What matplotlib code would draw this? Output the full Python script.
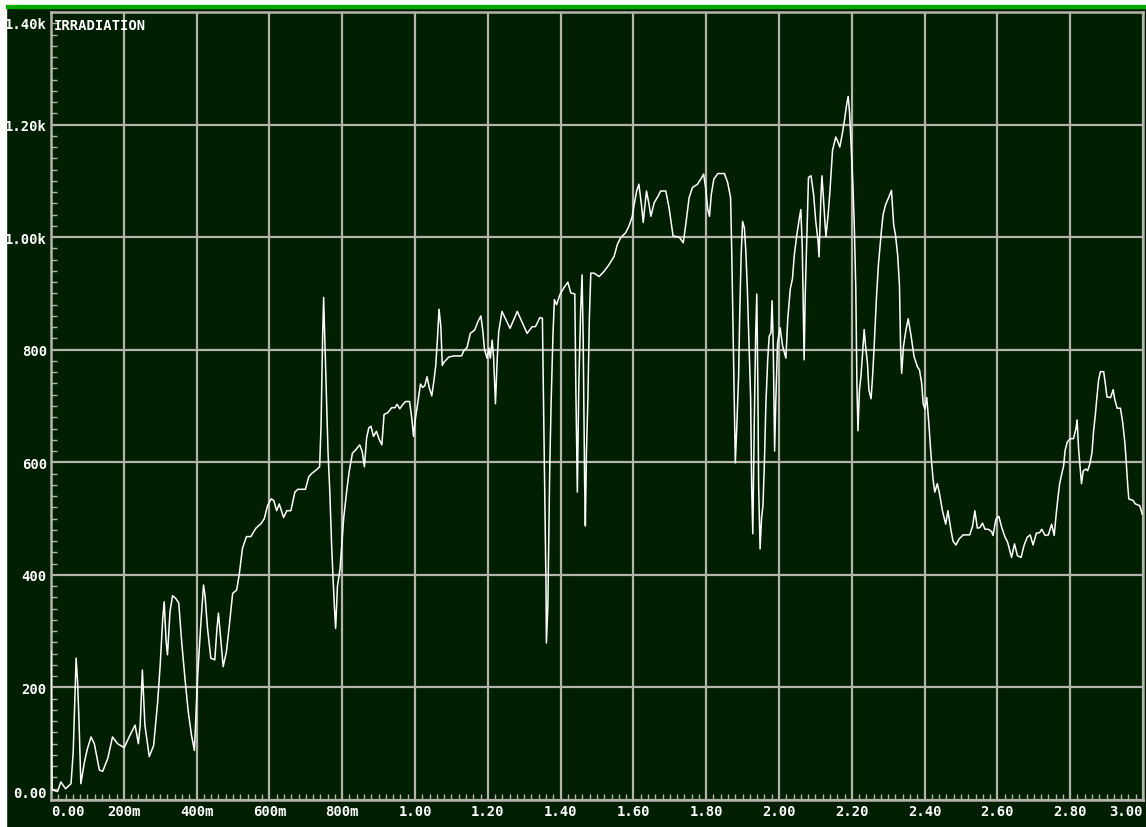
import matplotlib
matplotlib.use("Agg")
import matplotlib.pyplot as plt
from matplotlib.patches import Rectangle
from matplotlib.ticker import MultipleLocator
from matplotlib.transforms import ScaledTranslation

# Spectral irradiance trace (wavelength in micrometres)
wavelength_um = [
    0.0, 0.003, 0.018, 0.027, 0.04, 0.055, 0.061, 0.066, 0.069, 0.073, 0.077, 0.082,
    0.092, 0.10, 0.11, 0.119, 0.133, 0.142, 0.156, 0.169, 0.183, 0.201, 0.217, 0.231,
    0.24, 0.245, 0.251, 0.258, 0.27, 0.282, 0.293, 0.30, 0.307, 0.311, 0.316, 0.32,
    0.327, 0.334, 0.343, 0.351, 0.359, 0.368, 0.377, 0.386, 0.394, 0.399, 0.403, 0.412,
    0.419, 0.423, 0.43, 0.439, 0.45, 0.456, 0.46, 0.467, 0.473, 0.482, 0.49, 0.499,
    0.51, 0.517, 0.526, 0.537, 0.549, 0.563, 0.577, 0.586,
    0.595, 0.605, 0.612, 0.62, 0.627, 0.639, 0.648, 0.659, 0.67, 0.678, 0.699, 0.708,
    0.716, 0.728, 0.738, 0.742, 0.746, 0.749, 0.752, 0.756, 0.761, 0.766, 0.771, 0.775,
    0.779, 0.782, 0.787, 0.794, 0.804, 0.812, 0.819, 0.828, 0.837, 0.848, 0.855, 0.861,
    0.867, 0.873, 0.879, 0.886, 0.894, 0.902, 0.909, 0.915, 0.925, 0.936, 0.945, 0.951,
    0.958, 0.967, 0.974, 0.985, 0.991, 0.996, 1.0, 1.007, 1.015, 1.021, 1.027, 1.033,
    1.039, 1.046, 1.052, 1.057, 1.062, 1.066, 1.071, 1.075, 1.08, 1.093, 1.107, 1.128,
    1.134, 1.143, 1.152, 1.164, 1.173, 1.181, 1.186, 1.191,
    1.198, 1.203, 1.207, 1.212, 1.216, 1.221, 1.226, 1.23, 1.239, 1.261, 1.281, 1.308,
    1.322, 1.331, 1.343, 1.35, 1.352, 1.356, 1.36, 1.361, 1.365, 1.37, 1.374, 1.379,
    1.383, 1.389, 1.398, 1.409, 1.42, 1.428, 1.439, 1.442, 1.446, 1.45, 1.455, 1.459,
    1.462, 1.466, 1.468, 1.471, 1.475, 1.479, 1.483, 1.492, 1.506, 1.519, 1.533, 1.547,
    1.556, 1.565, 1.579, 1.588, 1.597, 1.602, 1.609, 1.615, 1.622, 1.627, 1.631, 1.636,
    1.643, 1.648, 1.657, 1.668, 1.675, 1.689, 1.698, 1.709, 1.726, 1.737, 1.744, 1.753,
    1.762, 1.776, 1.785, 1.793,
    1.799, 1.804, 1.809, 1.814, 1.821, 1.832, 1.85, 1.859, 1.867, 1.87, 1.874, 1.878,
    1.88, 1.884, 1.889, 1.892, 1.896, 1.9, 1.905, 1.909, 1.913, 1.917, 1.922, 1.925,
    1.928, 1.932, 1.936, 1.939, 1.942, 1.944, 1.948, 1.952, 1.956, 1.96, 1.964, 1.969,
    1.973, 1.978, 1.981, 1.984, 1.988, 1.991, 1.996, 2.003, 2.01, 2.019, 2.024, 2.031,
    2.037, 2.042, 2.049, 2.056, 2.06, 2.064, 2.067, 2.069, 2.072, 2.077, 2.081, 2.088,
    2.095, 2.101, 2.107, 2.11, 2.115, 2.118, 2.122, 2.126, 2.129, 2.135, 2.14, 2.147,
    2.156, 2.162, 2.167, 2.174, 2.18, 2.185, 2.19, 2.194, 2.198, 2.203, 2.207, 2.211,
    2.214, 2.217, 2.221, 2.225, 2.229, 2.234, 2.238, 2.243, 2.247, 2.253, 2.257, 2.261,
    2.265, 2.268, 2.273, 2.277, 2.282, 2.286, 2.293, 2.301, 2.309, 2.315, 2.32, 2.326,
    2.331, 2.334, 2.337, 2.342, 2.349, 2.355, 2.363, 2.371, 2.38, 2.386, 2.392, 2.396,
    2.401,
    2.406, 2.412, 2.417, 2.423, 2.428, 2.435, 2.441, 2.449, 2.458, 2.464, 2.472, 2.478,
    2.486, 2.495, 2.506, 2.524, 2.532, 2.538, 2.545, 2.552, 2.559, 2.566, 2.575, 2.584,
    2.588, 2.596, 2.604, 2.612, 2.621, 2.628, 2.639, 2.647, 2.655, 2.665, 2.673, 2.682,
    2.69, 2.698, 2.707, 2.716, 2.722, 2.731, 2.74, 2.749, 2.756, 2.762, 2.766, 2.771,
    2.777, 2.782, 2.786, 2.792, 2.8, 2.809, 2.816, 2.819, 2.823, 2.827, 2.831, 2.836,
    2.843, 2.848, 2.854, 2.86, 2.864, 2.869, 2.873, 2.878, 2.883, 2.892, 2.897, 2.901,
    2.911, 2.918, 2.922, 2.929, 2.938, 2.944, 2.95, 2.954, 2.958, 2.961, 2.973, 2.979,
    2.991, 2.998,
]

irradiance = [
    265, 18, 15, 32, 20, 29, 85, 192, 252, 210, 139, 29,
    68, 91, 112, 100, 53, 51, 74, 112, 100, 93, 115, 133,
    100, 133, 231, 133, 77, 97, 174, 240, 323, 352, 284, 258,
    335, 363, 358, 350, 281, 216, 157, 115, 88, 163, 222, 317,
    382, 364, 305, 252, 249, 305, 332, 281, 237, 264, 311, 367,
    373, 400, 447, 468, 468, 483, 491, 500,
    523, 535, 532, 514, 526, 502, 514, 514, 547, 552, 552, 574,
    580, 586, 592, 667, 817, 893, 823, 727, 619, 547, 452, 392,
    338, 305, 380, 410, 500, 547, 583, 616, 622, 631, 619, 592,
    643, 661, 664, 646, 655, 640, 631, 685, 688, 697, 697, 703,
    695, 703, 708, 708, 679, 646, 673, 703, 739, 733, 736, 752,
    733, 718, 745, 772, 823, 872, 841, 772, 778, 787, 789, 789,
    798, 804, 829, 835, 850, 860, 835, 800,
    785, 803, 785, 817, 785, 704, 785, 832, 868, 838, 868, 829,
    841, 841, 857, 856, 761, 571, 374, 279, 345, 583, 707, 826,
    889, 880, 898, 910, 920, 901, 899, 725, 547, 737, 868, 933,
    820, 565, 487, 618, 713, 856, 936, 936, 930, 939, 951, 966,
    987, 999, 1008, 1020, 1037, 1058, 1082, 1094, 1058, 1026, 1052, 1082,
    1058, 1037, 1061, 1073, 1082, 1082, 1052, 1002, 1000, 990, 1023, 1070,
    1088, 1094, 1103, 1112,
    1085, 1050, 1037, 1076, 1103, 1113, 1113, 1097, 1070, 980, 830, 674,
    599, 662, 752, 860, 968, 1028, 1016, 974, 908, 824, 716, 554,
    473, 668, 830, 899, 728, 560, 446, 500, 524, 602, 704, 782,
    824, 830, 887, 812, 620, 704, 812, 839, 806, 785, 854, 908,
    926, 968, 1004, 1034, 1049, 980, 854, 782, 896, 1016, 1106, 1109,
    1076, 1028, 995, 965, 1070, 1109, 1070, 1028, 1001, 1040, 1082, 1154,
    1178, 1169, 1160, 1184, 1208, 1232, 1250, 1220, 1166, 1094, 1016, 908,
    740, 656, 728, 752, 788, 836, 806, 776, 728, 713, 752, 800,
    854, 896, 950, 980, 1016, 1040, 1058, 1070, 1083, 1022, 1004, 968,
    914, 806, 758, 806, 836, 855, 824, 788, 770, 764, 740, 704,
    695,
    715, 666, 618, 571, 547, 562, 544, 514, 490, 514, 481, 460,
    453, 464, 471, 471, 487, 514, 483, 484, 492, 481, 481, 477,
    470, 499, 504, 484, 467, 458, 431, 455, 434, 431, 452, 467,
    471, 453, 474, 475, 481, 470, 471, 490, 470, 511, 535, 562,
    580, 594, 621, 636, 642, 642, 660, 675, 624, 594, 562, 585,
    588, 585, 597, 618, 654, 684, 713, 746, 761, 761, 737, 716,
    715, 729, 713, 696, 696, 672, 636, 600, 559, 535, 532, 526,
    523, 508,
]

x_ticks = [0.0, 0.2, 0.4, 0.6, 0.8, 1.0, 1.2, 1.4, 1.6, 1.8, 2.0, 2.2, 2.4, 2.6, 2.8, 3.0]
x_tick_labels = ["0.00", "200m", "400m", "600m", "800m", "1.00", "1.20", "1.40",
                 "1.60", "1.80", "2.00", "2.20", "2.40", "2.60", "2.80", "3.00"]
y_ticks = [0, 200, 400, 600, 800, 1000, 1200, 1400]
y_tick_labels = ["0.00", "200", "400", "600", "800", "1.00k", "1.20k", "1.40k"]
trace_name = "IRRADIATION"

W, H = 1146, 828
BG = "#001f00"
GRID = "#b4b4ac"
FONT = dict(family="DejaVu Sans Mono", weight="bold", size=10)

fig = plt.figure(figsize=(W / 100, H / 100), dpi=100, facecolor=BG)

# frame decoration: white margin strips and bright green title bar
fig.add_artist(Rectangle((0, 0), 6 / W, 1, transform=fig.transFigure,
                         color="white", zorder=0))
fig.add_artist(Rectangle((0, 1 - 6 / H), 1, 6 / H, transform=fig.transFigure,
                         color="white", zorder=0))
fig.add_artist(Rectangle((6 / W, 1 - 9 / H), 1, 3 / H, transform=fig.transFigure,
                         color="#00aa00", zorder=0))

left, right, top, bottom = 51 / W, 1143 / W, 1 - 13 / H, 1 - 801 / H
ax = fig.add_axes([left, bottom, right - left, top - bottom], facecolor=BG)

ax.plot(wavelength_um, irradiance, color="white", lw=1.1, zorder=3)

ax.set_xlim(0, 3.0)
ax.set_ylim(0, 1400)
ax.set_xticks(x_ticks)
ax.set_xticklabels(x_tick_labels, color="white", **FONT)
ax.set_yticks(y_ticks)
ax.set_yticklabels(y_tick_labels, color="white", **FONT)
ax.xaxis.set_minor_locator(MultipleLocator(0.02))
ax.yaxis.set_minor_locator(MultipleLocator(20))

ax.tick_params(which="major", length=0, pad=3)
ax.tick_params(which="minor", direction="in", length=4, width=1.0, color=GRID)

xl = ax.get_xticklabels()
xl[0].set_ha("left")
xl[-1].set_ha("right")
yl = ax.get_yticklabels()
yl[0].set_va("bottom")
yl[-1].set_va("top")
yl[-1].set_transform(yl[-1].get_transform()
                     + ScaledTranslation(0, -5 / 100, fig.dpi_scale_trans))

ax.grid(True, which="major", color=GRID, lw=1.6, zorder=1)
ax.set_axisbelow(True)
for sp in ax.spines.values():
    sp.set_color(GRID)
    sp.set_linewidth(1.8)

ax.text(0.003, 0.993, trace_name, transform=ax.transAxes, ha="left", va="top",
        color="white", zorder=4, **FONT)

fig.savefig("out.png", dpi=100, facecolor=BG)
